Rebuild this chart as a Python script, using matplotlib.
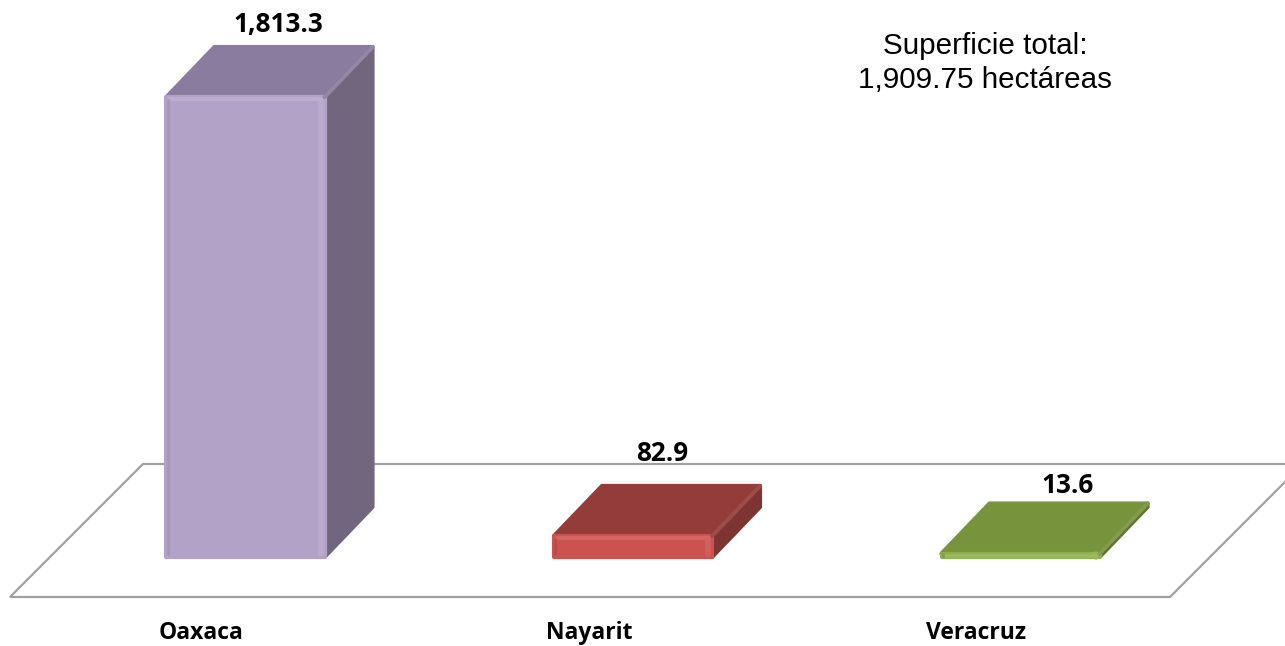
import matplotlib
matplotlib.use("Agg")
import matplotlib.pyplot as plt
import matplotlib.colors as mcolors
from matplotlib.patches import Polygon
from matplotlib.transforms import offset_copy

# data
estados = ['Oaxaca', 'Nayarit', 'Veracruz']
superficie = [1813.3, 82.9, 13.6]
etiquetas = ['1,813.3', '82.9', '13.6']
nota = 'Superficie total:\n1,909.75 hectáreas'

# colours (front, side, top)
col_front = ['#B3A2C7', '#CB524F', '#8DB04A']
col_side = ['#72667F', '#7E3432', '#5E7530']
col_top = ['#8A7C9E', '#943C3A', '#77933C']

# layout in pixels (figure 1285x646 at 100 dpi)
W, H = 1285, 646
x0_px, step_px = 245.5, 387.5      # centre of first bar, spacing
zero_px = 557                       # baseline of bars
top_px = 97                         # top of tallest bar
bar_w_px = 158
depth_dx, depth_dy = 48, 50
lab_dx = [33, 29, 47]               # value label offsets (px)
lab_dy = [15, 25, 11]
cat_dx = -44

px_per_val = (zero_px - top_px) / max(superficie)
xmin = -x0_px / step_px
xmax = (W - x0_px) / step_px
ymax = zero_px / px_per_val
ymin = -(H - zero_px) / px_per_val

def dx(px):
    return px / step_px

def dy(px):
    return px / px_per_val

fig = plt.figure(figsize=(W / 100, H / 100), dpi=100)
ax = fig.add_axes([0, 0, 1, 1])
ax.set_xlim(xmin, xmax)
ax.set_ylim(ymin, ymax)
ax.axis('off')

# floor
fl_front = -dy(597 - zero_px)
fl_left = dx(10 - x0_px)
fl_right = dx(1170 - x0_px)
fl_depth = 133
floor = Polygon([(fl_left, fl_front), (fl_right, fl_front),
                 (fl_right + dx(fl_depth), fl_front + dy(fl_depth)),
                 (fl_left + dx(fl_depth), fl_front + dy(fl_depth))],
                closed=True, facecolor='white', edgecolor='#A0A0A0', lw=1.6, zorder=1)
ax.add_patch(floor)

def shade(c, f):
    r, g, b = mcolors.to_rgb(c)
    if f > 0:
        return (r + (1 - r) * f, g + (1 - g) * f, b + (1 - b) * f)
    return (r * (1 + f), g * (1 + f), b * (1 + f))

hw = dx(bar_w_px) / 2
ddx, ddy = dx(depth_dx), dy(depth_dy)
for i, v in enumerate(superficie):
    l, r = i - hw, i + hw
    kw = dict(closed=True, lw=3, joinstyle='round', zorder=3)
    top = Polygon([(l, v), (r, v), (r + ddx, v + ddy), (l + ddx, v + ddy)],
                  facecolor=col_top[i], edgecolor=col_top[i], **kw)
    side = Polygon([(r, 0), (r + ddx, ddy), (r + ddx, v + ddy), (r, v)],
                   facecolor=col_side[i], edgecolor=col_side[i], **kw)
    front = Polygon([(l, 0), (r, 0), (r, v), (l, v)],
                    facecolor=col_front[i], edgecolor=col_front[i], **kw)
    ax.add_patch(top)
    ax.add_patch(side)
    ax.add_patch(front)
    # soft bevel highlights
    hl = shade(col_front[i], 0.12)
    ax.plot([l + dx(3), r - dx(3)], [v - dy(2), v - dy(2)], color=hl, lw=3,
            solid_capstyle='round', zorder=4)
    ax.plot([r - dx(4), r - dx(4)], [dy(3), v - dy(3)], color=hl, lw=4,
            solid_capstyle='round', alpha=0.8, zorder=4)
    ax.plot([l + dx(1), l + dx(1)], [dy(3), v - dy(3)], color=shade(col_front[i], -0.1),
            lw=2, solid_capstyle='round', alpha=0.8, zorder=4)
    ax.plot([r, r + ddx], [v, v + ddy], color=shade(col_top[i], 0.08), lw=3,
            solid_capstyle='round', zorder=4)

    tr = offset_copy(ax.transData, fig=fig, x=lab_dx[i], y=lab_dy[i], units='dots')
    ax.text(i, v + ddy, etiquetas[i], transform=tr, ha='center', va='baseline',
            fontsize=18.8, fontweight='bold', family='Open Sans', color='black', zorder=5)

    ax.text((i + dx(cat_dx) - xmin) / (xmax - xmin), 7 / H, estados[i],
            transform=ax.transAxes, ha='center', va='baseline',
            fontsize=16.5, fontweight='bold', family='Open Sans', color='black', zorder=5)

ax.text(985 / W, 1 - 63 / H, nota, transform=ax.transAxes, ha='center', va='center',
        fontsize=21.3, family='Liberation Sans', color='black', linespacing=1.25)

fig.savefig('out.png', dpi=100)
